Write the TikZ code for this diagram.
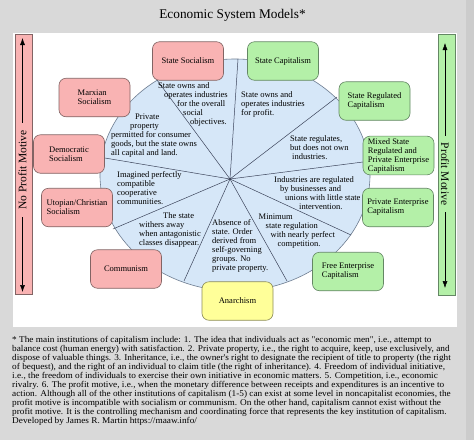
\documentclass[tikz,border=0pt]{standalone}
\usepackage{fontspec}
\setmainfont{Liberation Serif}
\newfontfamily\widefont[FakeStretch=1.055]{Liberation Serif}
\usetikzlibrary{arrows.meta}
\definecolor{bgray}{RGB}{217,217,217}
\definecolor{bgdark}{RGB}{204,204,204}
\definecolor{pinkfill}{RGB}{249,179,179}
\definecolor{pinkline}{RGB}{130,100,100}
\definecolor{greenfill}{RGB}{180,240,168}
\definecolor{greenline}{RGB}{100,135,100}
\definecolor{yellowfill}{RGB}{255,255,153}
\definecolor{yellowline}{RGB}{140,140,90}
\definecolor{bluefill}{RGB}{214,231,248}
\definecolor{blueline}{RGB}{110,125,145}
\definecolor{spoke}{RGB}{60,68,90}
\newcommand{\sectfont}{\fontsize{8.5}{9}\selectfont}
\newcommand{\footfont}{\widefont\fontsize{8.8}{9}\selectfont}
\tikzset{
  box/.style={rounded corners=7pt, line width=0.6pt, align=left, font=\sectfont,
    minimum width=71pt, minimum height=38.5pt, inner sep=2pt},
  redbox/.style={box, fill=pinkfill, draw=pinkline},
  greenbox/.style={box, fill=greenfill, draw=greenline},
  yellowbox/.style={box, fill=yellowfill, draw=yellowline},
  sect/.style={anchor=north west, inner sep=0pt, align=left, font=\sectfont},
  spokeline/.style={draw=spoke, line width=0.5pt},
  dblarrow/.style={line width=0.5pt, {Latex[length=7pt,width=5pt]}-{Latex[length=7pt,width=5pt]}},
}
\begin{document}
\begin{tikzpicture}[x=1pt,y=-1pt]
\useasboundingbox (0,0) rectangle (474,440);
\fill[bgray] (0,0) rectangle (474,440);
\fill[bgdark] (466,0) rectangle (474,440);
\fill[white] (13,33) rectangle (457,327);

% title
\node[anchor=base, font=\fontsize{13.3}{15}\selectfont, inner sep=0pt] (title) at (232.5,18.5) {Economic System Models*};

% side bars
\draw[fill=pinkfill, draw=pinkline, line width=0.6pt] (15,34) rectangle (32,294);
\coordinate (ltop) at (22.5,38);
\coordinate (lbot) at (22.5,292);
\draw[dblarrow] (ltop) -- (lbot);
\node[rotate=90, fill=pinkfill, inner xsep=7pt, inner ysep=1pt, font=\fontsize{11.5}{13}\selectfont] (lbl) at (22.5,170) {No Profit Motive};

\draw[fill=greenfill, draw=greenline, line width=0.6pt] (438,34) rectangle (455,295);
\coordinate (rtop) at (445,43);
\coordinate (rbot) at (445,288);
\draw[dblarrow] (rtop) -- (rbot);
\node[rotate=-90, fill=greenfill, inner xsep=7pt, inner ysep=1pt, font=\fontsize{11.5}{13}\selectfont] (rlbl) at (445,174) {Profit Motive};

% central ellipse
\draw[fill=bluefill, draw=blueline, line width=0.6pt] (235,175) ellipse [x radius=135, y radius=116];

% spokes
\coordinate (hub) at (230,179);
\coordinate (e1) at (238,59);
\coordinate (e2) at (157,80);
\coordinate (e3) at (105,158);
\coordinate (e4) at (113,229);
\coordinate (e5) at (184,281);
\coordinate (e6) at (287,281);
\coordinate (e7) at (351,235);
\coordinate (e8) at (363,162);
\coordinate (e9) at (337,97);
\foreach \e in {e1,e2,e3,e4,e5,e6,e7,e8,e9} \draw[spokeline] (hub) -- (\e);
\fill[spoke] (hub) circle (1.2);

% boxes
\node[redbox] (statesoc) at (188,61) {State Socialism};
\node[greenbox] (statecap) at (283,61) {State Capitalism};
\node[redbox] (marxian) at (94.5,97.5) {Marxian\\Socialism};
\node[greenbox] (statereg) at (374.5,101) {State Regulated\\Capitalism};
\node[redbox] (democratic) at (69,154) {Democratic\\Socialism};
\node[redbox] (utopian) at (77,207.5) {Utopian/Christian\\Socialism};
\node[greenbox] (mixed) at (398.5,155.5) {Mixed State\\Regulated and\\Private Enterprise\\Capitalism};
\node[greenbox] (privent) at (398,207.5) {Private Enterprise\\Capitalism};
\node[redbox] (communism) at (126,269) {Communism};
\node[yellowbox] (anarchism) at (237.5,301) {Anarchism};
\node[greenbox] (freeent) at (348,271.5) {Free Enterprise\\Capitalism};

% section texts
\node[sect] (t1) at (158,82.5) {State owns and\\\hspace*{6pt}operates industries\\\hspace*{19pt}for the overall\\\hspace*{25pt}social\\\hspace*{32pt}objectives.};
\node[sect] (t2) at (241,91.5) {State owns and\\operates industries\\for profit.};
\node[sect] (t3) at (290,135.5) {State regulates,\\but does not own\\\hspace*{2pt}industries.};
\node[sect] (t4) at (274,176.5) {Industries are regulated\\\hspace*{6pt}by businesses and\\\hspace*{11pt}unions with little state\\\hspace*{25pt}intervention.};
\node[sect] (t5) at (258.5,213.5) {Minimum\\\hspace*{7pt}state regulation\\\hspace*{12pt}with nearly perfect\\\hspace*{19pt}competition.};
\node[sect] (t6) at (212,219.5) {Absence of\\state. Order\\derived from\\self-governing\\groups. No\\private property.};
\node[sect] (t7) at (139,212.5) {\hspace*{24pt}The state\\withers away\\when antagonistic\\classes disappear.};
\node[sect] (t8) at (117,171.5) {Imagined perfectly\\compatible\\cooperative\\communities.};
\node[sect] (t9) at (111,113.5) {\hspace*{24pt}Private\\\hspace*{19pt}property\\permitted for consumer\\goods, but the state owns\\all capital and land.};

% footnote
\node[sect, font=\footfont] (foot) at (12,336.5) {* The main institutions of capitalism include: 1. The idea that individuals act as "economic men", i.e., attempt to\\
balance cost (human energy) with satisfaction. 2. Private property, i.e., the right to acquire, keep, use exclusively, and\\
dispose of valuable things. 3. Inheritance, i.e., the owner's right to designate the recipient of title to property (the right\\
of bequest), and the right of an individual to claim title (the right of inheritance). 4. Freedom of individual initiative,\\
i.e., the freedom of individuals to exercise their own initiative in economic matters. 5. Competition, i.e., economic\\
rivalry. 6. The profit motive, i.e., when the monetary difference between receipts and expenditures is an incentive to\\
action. Although all of the other institutions of capitalism (1-5) can exist at some level in noncapitalist economies, the\\
profit motive is incompatible with socialism or communism. On the other hand, capitalism cannot exist without the\\
profit motive. It is the controlling mechanism and coordinating force that represents the key institution of capitalism.\\
Developed by James R. Martin https://maaw.info/};
\end{tikzpicture}
\end{document}
